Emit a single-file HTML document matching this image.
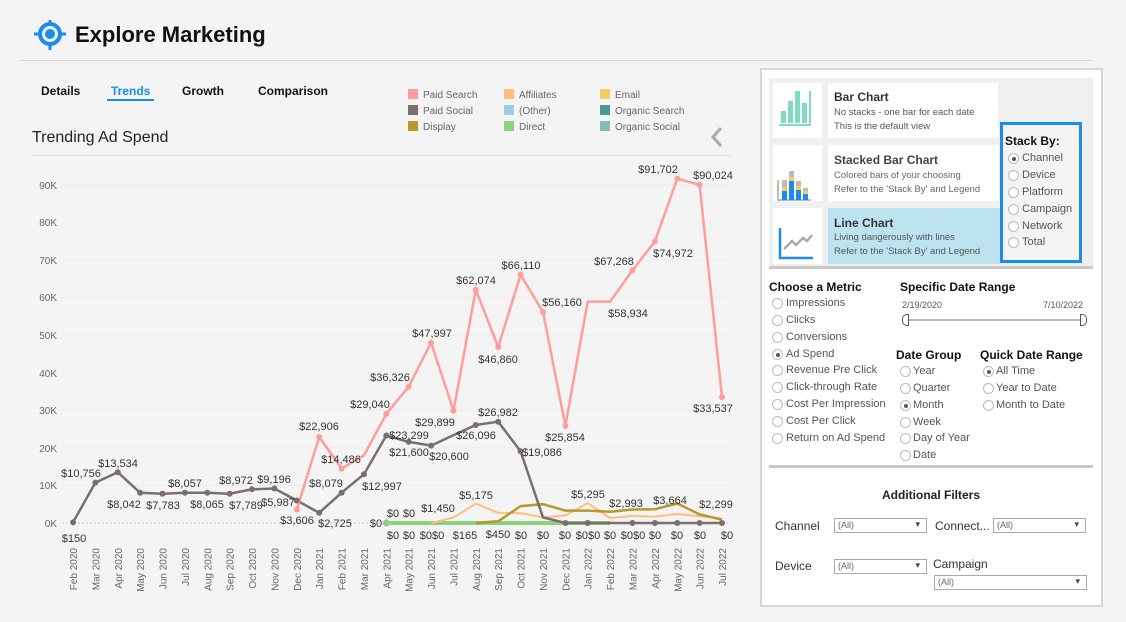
<!DOCTYPE html>
<html><head><meta charset="utf-8"><style>
*{margin:0;padding:0;box-sizing:border-box}
body{width:1126px;height:622px;background:#f4f4f4;font-family:"Liberation Sans",sans-serif;position:relative;overflow:hidden;color:#333}
.a{position:absolute;white-space:nowrap}
.b{font-weight:bold;color:#111}
.r{position:absolute;width:11px;height:11px;border:1px solid #bbb;border-radius:50%;background:#fff}
.r.on::after{content:"";position:absolute;left:2.5px;top:2.5px;width:4px;height:4px;border-radius:50%;background:#555}
.rl{position:absolute;font-size:11px;color:#555;white-space:nowrap}
.sel{position:absolute;height:15px;border:1px solid #aaa;background:#fff;font-size:9px;color:#666;padding:1px 3px}
.sel::after{content:"▾";position:absolute;right:6px;top:0px;font-size:9px;color:#444}
</style></head><body>
<svg class="a" style="left:30px;top:20px" width="40" height="30" viewBox="30 20 40 30">
<circle cx="50" cy="34" r="10" fill="none" stroke="#1a8cef" stroke-width="4"/>
<circle cx="50" cy="34" r="5" fill="#1a8cef"/>
<path d="M50 18v6M50 44v6M34 34h6M60 34h6" stroke="#1a8cef" stroke-width="3"/>
</svg>
<div class="a b" style="left:75px;top:22px;font-size:22px">Explore Marketing</div>
<div class="a" style="left:21px;top:60px;width:1072px;height:1px;background:#d6d6d6"></div>
<div class="a b" style="left:41px;top:84px;font-size:12px">Details</div>
<div class="a b" style="left:111px;top:84px;font-size:12px;color:#1a8cef">Trends</div>
<div class="a" style="left:107px;top:99px;width:47px;height:2px;background:#1a8cef"></div>
<div class="a b" style="left:182px;top:84px;font-size:12px">Growth</div>
<div class="a b" style="left:258px;top:84px;font-size:12px">Comparison</div>
<div class="a" style="left:32px;top:129px;font-size:16px;color:#222">Trending Ad Spend</div>
<div class="a" style="left:31px;top:155px;width:700px;height:1px;background:#ddd"></div>
<svg class="a" style="left:708px;top:125px" width="18" height="24"><polyline points="13,3 5,12 13,21" fill="none" stroke="#aaa" stroke-width="3"/></svg>
<svg class="a" style="left:400px;top:86px" width="300" height="50" font-size="10" fill="#666">
<rect x="8" y="3" width="10" height="10" fill="#ff9d9a"/><text x="23" y="12">Paid Search</text>
<rect x="8" y="19" width="10" height="10" fill="#79706e"/><text x="23" y="28">Paid Social</text>
<rect x="8" y="35" width="10" height="10" fill="#b6992d"/><text x="23" y="44">Display</text>
<rect x="104" y="3" width="10" height="10" fill="#ffbe7d"/><text x="119" y="12">Affiliates</text>
<rect x="104" y="19" width="10" height="10" fill="#a0cbe8"/><text x="119" y="28">(Other)</text>
<rect x="104" y="35" width="10" height="10" fill="#8cd17d"/><text x="119" y="44">Direct</text>
<rect x="200" y="3" width="10" height="10" fill="#f1ce63"/><text x="215" y="12">Email</text>
<rect x="200" y="19" width="10" height="10" fill="#499894"/><text x="215" y="28">Organic Search</text>
<rect x="200" y="35" width="10" height="10" fill="#86bcb6"/><text x="215" y="44">Organic Social</text>
</svg>
<svg class="a" style="left:0;top:0" width="750" height="622" font-family="Liberation Sans, sans-serif">
<g stroke="#ececec" stroke-width="1">
<line x1="62" x2="730" y1="485.4" y2="485.4"/><line x1="62" x2="730" y1="447.9" y2="447.9"/><line x1="62" x2="730" y1="410.3" y2="410.3"/><line x1="62" x2="730" y1="372.8" y2="372.8"/><line x1="62" x2="730" y1="335.2" y2="335.2"/><line x1="62" x2="730" y1="297.6" y2="297.6"/><line x1="62" x2="730" y1="260.1" y2="260.1"/><line x1="62" x2="730" y1="222.5" y2="222.5"/><line x1="62" x2="730" y1="185" y2="185"/>
</g>
<line x1="62" x2="730" y1="523" y2="523" stroke="#ccc" stroke-dasharray="2,2"/>
<g font-size="10" fill="#666" text-anchor="end">
<text x="57" y="527">0K</text><text x="57" y="489">10K</text><text x="57" y="452">20K</text><text x="57" y="414">30K</text><text x="57" y="377">40K</text><text x="57" y="339">50K</text><text x="57" y="301">60K</text><text x="57" y="264">70K</text><text x="57" y="226">80K</text><text x="57" y="189">90K</text>
</g>
<g font-size="10" fill="#666" text-anchor="end">
<text transform="translate(77,548) rotate(-90)">Feb 2020</text><text transform="translate(99.4,548) rotate(-90)">Mar 2020</text><text transform="translate(121.8,548) rotate(-90)">Apr 2020</text><text transform="translate(144.1,548) rotate(-90)">May 2020</text><text transform="translate(166.5,548) rotate(-90)">Jun 2020</text><text transform="translate(188.9,548) rotate(-90)">Jul 2020</text><text transform="translate(211.3,548) rotate(-90)">Aug 2020</text><text transform="translate(233.7,548) rotate(-90)">Sep 2020</text><text transform="translate(256,548) rotate(-90)">Oct 2020</text><text transform="translate(278.4,548) rotate(-90)">Nov 2020</text><text transform="translate(300.8,548) rotate(-90)">Dec 2020</text><text transform="translate(323.2,548) rotate(-90)">Jan 2021</text><text transform="translate(345.6,548) rotate(-90)">Feb 2021</text><text transform="translate(368,548) rotate(-90)">Mar 2021</text><text transform="translate(390.3,548) rotate(-90)">Apr 2021</text><text transform="translate(412.7,548) rotate(-90)">May 2021</text><text transform="translate(435.1,548) rotate(-90)">Jun 2021</text><text transform="translate(457.5,548) rotate(-90)">Jul 2021</text><text transform="translate(479.8,548) rotate(-90)">Aug 2021</text><text transform="translate(502.2,548) rotate(-90)">Sep 2021</text><text transform="translate(524.6,548) rotate(-90)">Oct 2021</text><text transform="translate(547,548) rotate(-90)">Nov 2021</text><text transform="translate(569.4,548) rotate(-90)">Dec 2021</text><text transform="translate(591.7,548) rotate(-90)">Jan 2022</text><text transform="translate(614.1,548) rotate(-90)">Feb 2022</text><text transform="translate(636.5,548) rotate(-90)">Mar 2022</text><text transform="translate(658.9,548) rotate(-90)">Apr 2022</text><text transform="translate(681.3,548) rotate(-90)">May 2022</text><text transform="translate(703.6,548) rotate(-90)">Jun 2022</text><text transform="translate(726,548) rotate(-90)">Jul 2022</text>
</g>
<polyline fill="none" stroke="#8cd17d" stroke-width="4" points="386.3,523 610.1,523"/>
<polyline fill="none" stroke="#ffbe7d" stroke-width="2" points="431.1,523 453.5,517.6 475.8,503.6 498.2,512.9 520.6,513.2 543,517.4 565.4,515.5 587.7,503.1 610.1,518.1 632.5,515.9 654.9,516.6 677.3,514 699.6,516.2 722,518.5"/>
<polyline fill="none" stroke="#b6992d" stroke-width="2.5" points="475.8,523 498.2,521.3 520.6,506.1 543,504.2 565.4,510.6 587.7,510.6 610.1,511.8 632.5,509.5 654.9,509.2 677.3,503.5 699.6,514.4 722,519.6"/>
<polyline fill="none" stroke="#79706e" stroke-width="2.5" points="73,522.4 95.4,482.6 117.8,472.2 140.1,492.8 162.5,493.8 184.9,492.7 207.3,492.7 229.7,493.7 252,489.3 274.4,488.5 296.8,500.5 319.2,512.8 341.6,492.7 364,474.2 386.3,435.5 408.7,441.9 431.1,445.6 453.5,435.1 475.8,425 498.2,421.7 520.6,451.3 543,517.4 565.4,523 587.7,523 610.1,523 632.5,523 654.9,523 677.3,523 699.6,523 722,523"/>
<polyline fill="none" stroke="#ff9d9a" stroke-width="2.5" points="296.8,509.5 319.2,437 341.6,468.6 364,455.4 386.3,413.9 408.7,386.6 431.1,342.7 453.5,410.7 475.8,289.8 498.2,347 520.6,274.7 543,312 565.4,425.9 587.7,301.6 610.1,301.6 632.5,270.3 654.9,241.4 677.3,178.6 699.6,184.9 722,397"/>
<g fill="#79706e">
<circle cx="73" cy="522.4" r="3"/><circle cx="95.4" cy="482.6" r="3"/><circle cx="117.8" cy="472.2" r="3"/><circle cx="140.1" cy="492.8" r="3"/><circle cx="162.5" cy="493.8" r="3"/><circle cx="184.9" cy="492.7" r="3"/><circle cx="207.3" cy="492.7" r="3"/><circle cx="229.7" cy="493.7" r="3"/><circle cx="252" cy="489.3" r="3"/><circle cx="274.4" cy="488.5" r="3"/><circle cx="296.8" cy="500.5" r="3"/><circle cx="319.2" cy="512.8" r="3"/><circle cx="341.6" cy="492.7" r="3"/><circle cx="364" cy="474.2" r="3"/><circle cx="386.3" cy="435.5" r="3"/><circle cx="408.7" cy="441.9" r="3"/><circle cx="431.1" cy="445.6" r="3"/><circle cx="475.8" cy="425" r="3"/><circle cx="498.2" cy="421.7" r="3"/><circle cx="520.6" cy="451.3" r="3"/><circle cx="565.4" cy="523" r="3"/><circle cx="587.7" cy="523" r="3"/><circle cx="632.5" cy="523" r="3"/><circle cx="654.9" cy="523" r="3"/><circle cx="677.3" cy="523" r="3"/><circle cx="699.6" cy="523" r="3"/><circle cx="722" cy="523" r="3"/>
</g>
<g fill="#ff9d9a">
<circle cx="296.8" cy="509.5" r="3"/><circle cx="319.2" cy="437" r="3"/><circle cx="341.6" cy="468.6" r="3"/><circle cx="386.3" cy="413.9" r="3"/><circle cx="408.7" cy="386.6" r="3"/><circle cx="431.1" cy="342.7" r="3"/><circle cx="453.5" cy="410.7" r="3"/><circle cx="475.8" cy="289.8" r="3"/><circle cx="498.2" cy="347" r="3"/><circle cx="520.6" cy="274.7" r="3"/><circle cx="543" cy="312" r="3"/><circle cx="565.4" cy="425.9" r="3"/><circle cx="632.5" cy="270.3" r="3"/><circle cx="654.9" cy="241.4" r="3"/><circle cx="677.3" cy="178.6" r="3"/><circle cx="699.6" cy="184.9" r="3"/><circle cx="722" cy="397" r="3"/>
</g>
<circle cx="386.3" cy="523" r="3.5" fill="#8cd17d"/>
<g font-size="11" fill="#333" text-anchor="middle">
<text x="74" y="542">$150</text><text x="81" y="477">$10,756</text><text x="118" y="467">$13,534</text><text x="124" y="508">$8,042</text><text x="163" y="509">$7,783</text><text x="185" y="487">$8,057</text><text x="207" y="508">$8,065</text><text x="236" y="484">$8,972</text><text x="246" y="509">$7,789</text><text x="274" y="483">$9,196</text><text x="278" y="506">$5,987</text><text x="297" y="524">$3,606</text><text x="335" y="527">$2,725</text><text x="326" y="487">$8,079</text><text x="319" y="430">$22,906</text><text x="341" y="463">$14,486</text><text x="382" y="490">$12,997</text><text x="370" y="408">$29,040</text><text x="390" y="381">$36,326</text><text x="432" y="337">$47,997</text><text x="435" y="426">$29,899</text><text x="476" y="284">$62,074</text><text x="498" y="363">$46,860</text><text x="521" y="269">$66,110</text><text x="562" y="306">$56,160</text><text x="565" y="441">$25,854</text><text x="614" y="265">$67,268</text><text x="628" y="317">$58,934</text><text x="673" y="257">$74,972</text><text x="658" y="173">$91,702</text><text x="713" y="179">$90,024</text><text x="713" y="412">$33,537</text>
<text x="409" y="439">$23,299</text><text x="409" y="456">$21,600</text><text x="449" y="460">$20,600</text><text x="476" y="439">$26,096</text><text x="498" y="416">$26,982</text><text x="542" y="456">$19,086</text>
<text x="376" y="527">$0</text><text x="393" y="517">$0</text><text x="409" y="517">$0</text><text x="438" y="512">$1,450</text><text x="476" y="499">$5,175</text><text x="588" y="498">$5,295</text><text x="626" y="507">$2,993</text><text x="670" y="504">$3,664</text><text x="716" y="508">$2,299</text>
<text x="393" y="539">$0</text><text x="409" y="539">$0</text><text x="432" y="539">$0$0</text><text x="465" y="539">$165</text><text x="498" y="538">$450</text><text x="521" y="539">$0</text><text x="543" y="539">$0</text><text x="565" y="539">$0</text><text x="588" y="539">$0$0</text><text x="610" y="539">$0</text><text x="633" y="539">$0$0</text><text x="655" y="539">$0</text><text x="677" y="539">$0</text><text x="700" y="539">$0</text><text x="727" y="539">$0</text>
</g>
</svg>

<div class="a" style="left:760px;top:68px;width:343px;height:539px;background:#fff;border:2px solid #d6d6d6"></div>
<div class="a" style="left:769px;top:78px;width:324px;height:188px;background:#f0f0f0"></div>
<div class="a" style="left:773px;top:83px;width:49px;height:55px;background:#fff"></div>
<div class="a" style="left:773px;top:145px;width:49px;height:56px;background:#fff"></div>
<div class="a" style="left:773px;top:208px;width:49px;height:56px;background:#fff"></div>
<svg class="a" style="left:773px;top:83px" width="49" height="181">
<g fill="#7fdcc0"><rect x="8" y="28" width="5" height="12"/><rect x="15" y="18" width="5" height="22"/><rect x="22" y="8" width="5" height="32"/><rect x="29" y="20" width="5" height="20"/></g>
<path d="M6 42h31V8" stroke="#7fdcc0" stroke-width="2" fill="none"/>
<path d="M5 97v20h33" stroke="#bbb" stroke-width="2" fill="none"/>
<g><rect x="9" y="108" width="5" height="9" fill="#1a8cef"/><rect x="9" y="104" width="5" height="4" fill="#f1ce63"/><rect x="9" y="97" width="5" height="7" fill="#bbb"/>
<rect x="16" y="98" width="5" height="19" fill="#1a8cef"/><rect x="16" y="94" width="5" height="4" fill="#f1ce63"/><rect x="16" y="88" width="5" height="6" fill="#bbb"/>
<rect x="23" y="107" width="5" height="10" fill="#1a8cef"/><rect x="23" y="103" width="5" height="4" fill="#f1ce63"/><rect x="23" y="98" width="5" height="5" fill="#bbb"/>
<rect x="30" y="111" width="5" height="6" fill="#1a8cef"/><rect x="30" y="108" width="5" height="3" fill="#f1ce63"/><rect x="30" y="105" width="5" height="3" fill="#bbb"/></g>
<path d="M7 145v30h33" stroke="#1a8cef" stroke-width="2.5" fill="none"/>
<path d="M11 166l8-8 4 4 7-7 4 3 5-6" stroke="#aaa" stroke-width="2.5" fill="none"/>
</svg>
<div class="a" style="left:828px;top:83px;width:170px;height:55px;background:#fff"></div>
<div class="a" style="left:828px;top:145px;width:170px;height:56px;background:#fff"></div>
<div class="a" style="left:828px;top:208px;width:172px;height:56px;background:#bde3f0"></div>
<div class="a b" style="left:834px;top:90px;font-size:12px;color:#333">Bar Chart</div>
<div class="a" style="left:834px;top:107px;font-size:9.5px;color:#555">No stacks - one bar for each date</div>
<div class="a" style="left:834px;top:121px;font-size:9.5px;color:#555">This is the default view</div>
<div class="a b" style="left:834px;top:153px;font-size:12px;color:#444">Stacked Bar Chart</div>
<div class="a" style="left:834px;top:170px;font-size:9.5px;color:#666">Colored bars of your choosing</div>
<div class="a" style="left:834px;top:184px;font-size:9.5px;color:#666">Refer to the 'Stack By' and Legend</div>
<div class="a b" style="left:834px;top:216px;font-size:12px;color:#333">Line Chart</div>
<div class="a" style="left:834px;top:232px;font-size:9.5px;color:#555">Living dangerously with lines</div>
<div class="a" style="left:834px;top:246px;font-size:9.5px;color:#555">Refer to the 'Stack By' and Legend</div>
<div class="a" style="left:1000px;top:122px;width:82px;height:141px;border:3px solid #1a8cef;background:#f4f4f4"></div>
<div class="a b" style="left:1005px;top:134px;font-size:12px">Stack By:</div>
<div class="r on" style="left:1008px;top:153px"></div><div class="rl" style="left:1022px;top:152px">Channel</div>
<div class="r" style="left:1008px;top:170px"></div><div class="rl" style="left:1022px;top:169px">Device</div>
<div class="r" style="left:1008px;top:187px"></div><div class="rl" style="left:1022px;top:186px">Platform</div>
<div class="r" style="left:1008px;top:204px"></div><div class="rl" style="left:1022px;top:203px">Campaign</div>
<div class="r" style="left:1008px;top:221px"></div><div class="rl" style="left:1022px;top:220px">Network</div>
<div class="r" style="left:1008px;top:237px"></div><div class="rl" style="left:1022px;top:236px">Total</div>
<div class="a" style="left:769px;top:266px;width:324px;height:3px;background:#c8c8c8"></div>
<div class="a b" style="left:769px;top:280px;font-size:12px">Choose a Metric</div>
<div class="r" style="left:772px;top:298px"></div><div class="rl" style="left:786px;top:297px">Impressions</div>
<div class="r" style="left:772px;top:315px"></div><div class="rl" style="left:786px;top:314px">Clicks</div>
<div class="r" style="left:772px;top:332px"></div><div class="rl" style="left:786px;top:331px">Conversions</div>
<div class="r on" style="left:772px;top:349px"></div><div class="rl" style="left:786px;top:348px">Ad Spend</div>
<div class="r" style="left:772px;top:365px"></div><div class="rl" style="left:786px;top:364px">Revenue Pre Click</div>
<div class="r" style="left:772px;top:382px"></div><div class="rl" style="left:786px;top:381px">Click-through Rate</div>
<div class="r" style="left:772px;top:399px"></div><div class="rl" style="left:786px;top:398px">Cost Per Impression</div>
<div class="r" style="left:772px;top:416px"></div><div class="rl" style="left:786px;top:415px">Cost Per Click</div>
<div class="r" style="left:772px;top:433px"></div><div class="rl" style="left:786px;top:432px">Return on Ad Spend</div>
<div class="a b" style="left:900px;top:280px;font-size:12px">Specific Date Range</div>
<div class="a" style="left:902px;top:300px;font-size:9px;color:#555">2/19/2020</div>
<div class="a" style="left:1043px;top:300px;font-size:9px;color:#555">7/10/2022</div>
<div class="a" style="left:906px;top:319px;width:178px;height:2px;background:#bbb"></div>
<div class="a" style="left:902px;top:314px;width:7px;height:12px;border:1px solid #555;border-radius:5px 0 0 5px;background:#fff"></div>
<div class="a" style="left:1080px;top:314px;width:7px;height:12px;border:1px solid #555;border-radius:0 5px 5px 0;background:#fff"></div>
<div class="a b" style="left:896px;top:348px;font-size:12px">Date Group</div>
<div class="r" style="left:900px;top:366px"></div><div class="rl" style="left:913px;top:365px">Year</div>
<div class="r" style="left:900px;top:383px"></div><div class="rl" style="left:913px;top:382px">Quarter</div>
<div class="r on" style="left:900px;top:400px"></div><div class="rl" style="left:913px;top:399px">Month</div>
<div class="r" style="left:900px;top:417px"></div><div class="rl" style="left:913px;top:416px">Week</div>
<div class="r" style="left:900px;top:433px"></div><div class="rl" style="left:913px;top:432px">Day of Year</div>
<div class="r" style="left:900px;top:450px"></div><div class="rl" style="left:913px;top:449px">Date</div>
<div class="a b" style="left:980px;top:348px;font-size:12px">Quick Date Range</div>
<div class="r on" style="left:983px;top:366px"></div><div class="rl" style="left:996px;top:365px">All Time</div>
<div class="r" style="left:983px;top:383px"></div><div class="rl" style="left:996px;top:382px">Year to Date</div>
<div class="r" style="left:983px;top:400px"></div><div class="rl" style="left:996px;top:399px">Month to Date</div>
<div class="a" style="left:769px;top:465px;width:324px;height:3px;background:#c8c8c8"></div>
<div class="a b" style="left:882px;top:488px;font-size:12px;color:#222">Additional Filters</div>
<div class="a" style="left:775px;top:519px;font-size:12px;color:#333">Channel</div>
<div class="sel" style="left:834px;top:518px;width:93px">(All)</div>
<div class="a" style="left:935px;top:519px;font-size:12px;color:#333">Connect...</div>
<div class="sel" style="left:993px;top:518px;width:93px">(All)</div>
<div class="a" style="left:775px;top:559px;font-size:12px;color:#333">Device</div>
<div class="sel" style="left:834px;top:559px;width:93px">(All)</div>
<div class="a" style="left:933px;top:557px;font-size:12px;color:#333">Campaign</div>
<div class="sel" style="left:934px;top:575px;width:153px">(All)</div>
</body></html>
